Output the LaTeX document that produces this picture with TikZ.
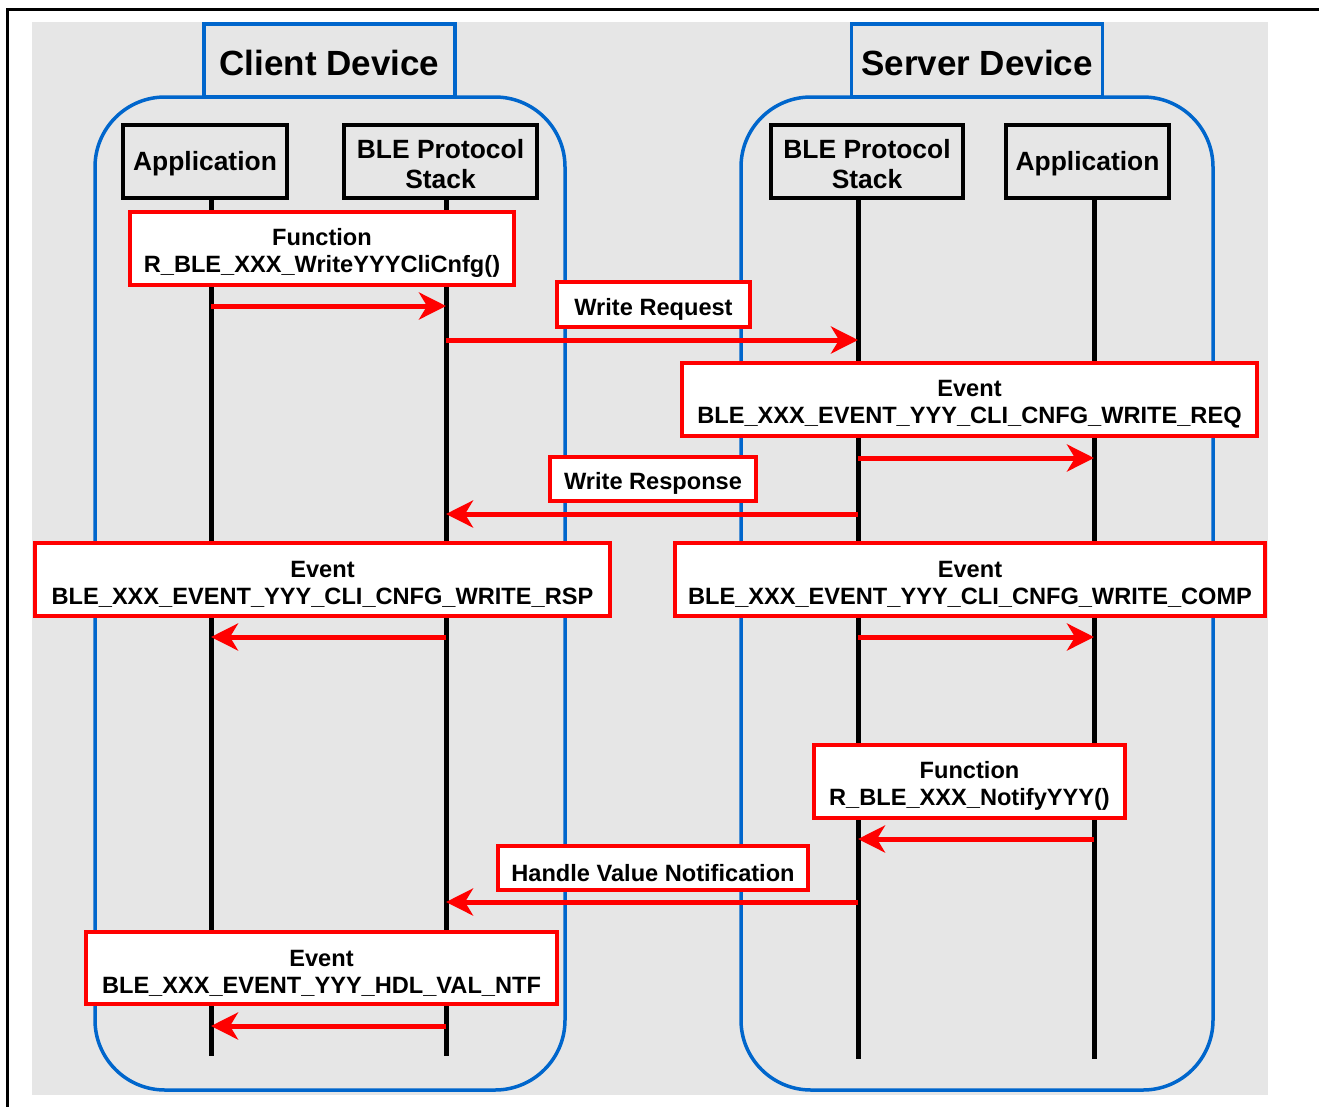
\documentclass[tikz,border=0pt]{standalone}
\usepackage{fontspec}
\setmainfont{Liberation Sans}
\usetikzlibrary{arrows.meta}
\definecolor{bggrey}{HTML}{E6E6E6}
\definecolor{devblue}{HTML}{0066CC}
\definecolor{evred}{HTML}{FF0000}
\newcommand{\myupm}{\rule{0pt}{26.5pt}}
\newcommand{\myupa}{\rule{0pt}{24pt}}
\newcommand{\myupt}{\rule{0pt}{30pt}}
\begin{document}
\begin{tikzpicture}[x=1pt,y=-1pt,
  devbox/.style={draw=devblue, line width=3.5pt, rounded corners=70pt},
  devtitle/.style={draw=devblue, line width=3.5pt, fill=bggrey, minimum width=251pt, minimum height=73pt, inner sep=0pt, font=\fontsize{35}{40}\selectfont\bfseries},
  actor/.style={draw=black, line width=3.5pt, fill=bggrey, minimum height=73pt, inner sep=0pt, align=center, font=\fontsize{26.4}{30}\selectfont\bfseries},
  lifeline/.style={draw=black, line width=5pt},
  msgbox/.style={draw=evred, line width=3.5pt, fill=white, inner sep=0pt, align=center, font=\fontsize{23.6}{27}\selectfont\bfseries},
  msg/.style={draw=evred, line width=5pt, -{Stealth[length=27pt,width=27pt,inset=8pt]}}
]
\useasboundingbox (0,0) rectangle (1319,1106);
% background
\fill[bggrey] (32,22) rectangle (1268,1095);
\draw[line width=3pt] (7,1110) -- (7,9) -- (1325,9);
% device containers
\draw[devbox] (95,97) rectangle (565,1090);
\draw[devbox] (741,97) rectangle (1213,1090);
\node[devtitle] (cdev) at (329.5,60.5) {\myupt Client Device};
\node[devtitle] (sdev) at (977,60.5) {\myupt Server Device};
% actors
\node[actor, minimum width=164pt] (capp) at (205,161.5) {\myupa Application};
\node[actor, minimum width=193pt] (cble) at (440.5,161.5) {\myupa BLE Protocol\\Stack};
\node[actor, minimum width=192pt] (sble) at (867,161.5) {\myupa BLE Protocol\\Stack};
\node[actor, minimum width=163pt] (sapp) at (1087.5,161.5) {\myupa Application};
% lifelines
\coordinate (cappT) at (211,199); \coordinate (cappB) at (211,1056);
\coordinate (cbleT) at (446,199); \coordinate (cbleB) at (446,1056);
\coordinate (sbleT) at (858,199); \coordinate (sbleB) at (858,1059);
\coordinate (sappT) at (1094,199); \coordinate (sappB) at (1094,1059);
\draw[lifeline] (cappT) -- (cappB);
\draw[lifeline] (cbleT) -- (cbleB);
\draw[lifeline] (sbleT) -- (sbleB);
\draw[lifeline] (sappT) -- (sappB);
% message boxes
\node[msgbox, minimum width=384pt, minimum height=73pt] (f1) at (322,248.5) {\myupm Function\\R\_BLE\_XXX\_WriteYYYCliCnfg()};
\node[msgbox, minimum width=193pt, minimum height=45pt] (wreq) at (653.5,304.5) {\myupm Write Request};
\node[msgbox, minimum width=575pt, minimum height=73pt] (ereq) at (969.5,399.5) {\myupm Event\\BLE\_XXX\_EVENT\_YYY\_CLI\_CNFG\_WRITE\_REQ};
\node[msgbox, minimum width=206pt, minimum height=44pt] (wrsp) at (653,479) {\myupm Write Response};
\node[msgbox, minimum width=575pt, minimum height=73pt] (ersp) at (322.5,579.5) {\myupm Event\\BLE\_XXX\_EVENT\_YYY\_CLI\_CNFG\_WRITE\_RSP};
\node[msgbox, minimum width=590pt, minimum height=73pt] (ecomp) at (970,579.5) {\myupm Event\\BLE\_XXX\_EVENT\_YYY\_CLI\_CNFG\_WRITE\_COMP};
\node[msgbox, minimum width=311pt, minimum height=73pt] (f2) at (969.5,781.5) {\myupm Function\\R\_BLE\_XXX\_NotifyYYY()};
\node[msgbox, minimum width=310pt, minimum height=44pt] (hvn) at (653,868) {\myupm Handle Value Notification};
\node[msgbox, minimum width=471pt, minimum height=72pt] (entf) at (321.5,968) {\myupm Event\\BLE\_XXX\_EVENT\_YYY\_HDL\_VAL\_NTF};
% message points on lifelines
\coordinate (a1s) at (211,306);  \coordinate (a1e) at (446,306);
\coordinate (a2s) at (446,340);  \coordinate (a2e) at (858,340);
\coordinate (a3s) at (858,458);  \coordinate (a3e) at (1094,458);
\coordinate (a4s) at (858,514);  \coordinate (a4e) at (446,514);
\coordinate (a5s) at (446,637);  \coordinate (a5e) at (211,637);
\coordinate (a6s) at (858,637);  \coordinate (a6e) at (1094,637);
\coordinate (a7s) at (1094,839); \coordinate (a7e) at (858,839);
\coordinate (a8s) at (858,902);  \coordinate (a8e) at (446,902);
\coordinate (a9s) at (446,1026); \coordinate (a9e) at (211,1026);
\draw[msg] (a1s) -- (a1e);
\draw[msg] (a2s) -- (a2e);
\draw[msg] (a3s) -- (a3e);
\draw[msg] (a4s) -- (a4e);
\draw[msg] (a5s) -- (a5e);
\draw[msg] (a6s) -- (a6e);
\draw[msg] (a7s) -- (a7e);
\draw[msg] (a8s) -- (a8e);
\draw[msg] (a9s) -- (a9e);
\end{tikzpicture}
\end{document}
